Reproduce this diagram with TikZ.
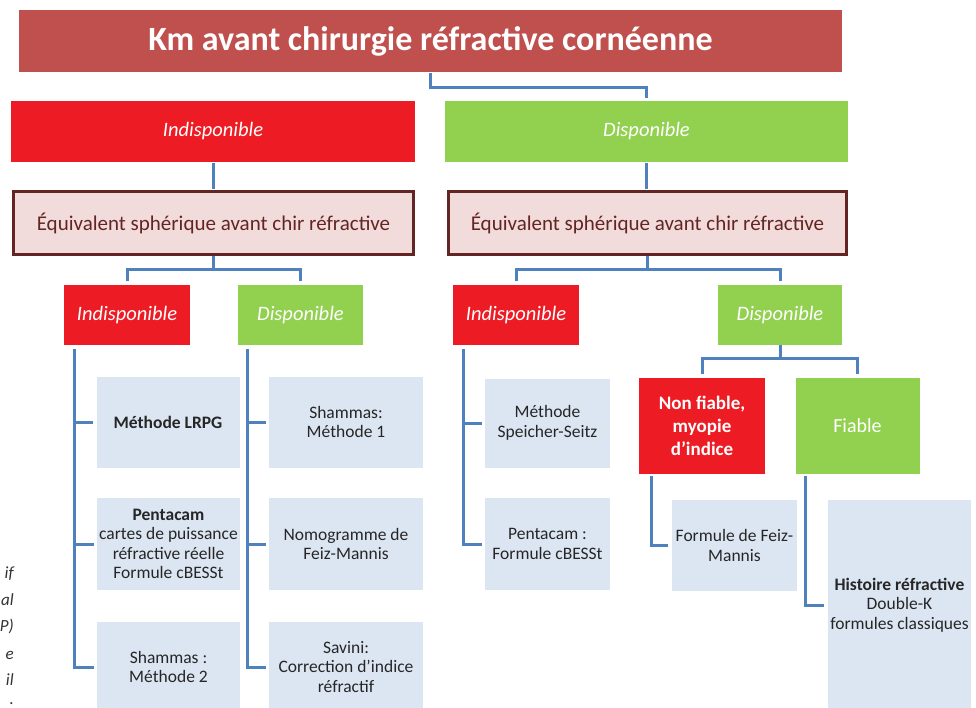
\documentclass[tikz,border=0pt]{standalone}
\usepackage{fontspec}
\setmainfont{Carlito}
\definecolor{bordeaux}{HTML}{C0504D}
\definecolor{rouge}{HTML}{ED1C24}
\definecolor{vert}{HTML}{92D050}
\definecolor{rose}{HTML}{F2DCDB}
\definecolor{brun}{HTML}{632523}
\definecolor{gris}{HTML}{DCE6F2}
\definecolor{lien}{HTML}{4F81BD}

\begin{document}
\begin{tikzpicture}[x=1pt,y=-1pt,
	wh/.style 2 args={minimum width=#1pt,minimum height=#2pt,inner sep=0pt},
	titre/.style={fill=bordeaux,text=white,font=\fontsize{34}{40}\selectfont\bfseries},
	nondispo/.style={fill=rouge,text=white,font=\fontsize{20.5}{24}\selectfont\itshape},
	dispo/.style={fill=vert,text=white,font=\fontsize{20.5}{24}\selectfont\itshape},
	equiv/.style={fill=rose,draw=brun,line width=3pt,text=brun,font=\fontsize{21}{24}\selectfont},
	feuille/.style={fill=gris,text=black!85,align=center,font=\fontsize{17.5}{19.5}\selectfont},
	fiab/.style={text=white,align=center,font=\fontsize{20}{23}\selectfont},
	lien/.style={draw=lien,line width=3pt},
	frag/.style={anchor=base east,inner sep=0pt,text=black!80,font=\fontsize{17}{18}\selectfont\itshape}]
\useasboundingbox (0,0) rectangle (976,707);
\clip (0,0) rectangle (976,707);

\node[titre,wh={823}{62}] (km) at (430.5,41) {Km avant chirurgie réfractive cornéenne};

\node[nondispo,wh={404}{61}] (indA) at (213,131.5) {Indisponible};
\node[dispo,wh={403}{61}] (disA) at (646.5,131.5) {Disponible};

\node[equiv,wh={400}{63}] (eqL) at (213.5,223) {Équivalent sphérique avant chir réfractive};
\node[equiv,wh={398}{63}] (eqR) at (647.5,223) {Équivalent sphérique avant chir réfractive};

\node[nondispo,wh={126}{60}] (indB) at (127,315) {Indisponible};
\node[dispo,wh={125}{60}] (disB) at (300.5,315) {Disponible};
\node[nondispo,wh={126}{60}] (indC) at (516,315) {Indisponible};
\node[dispo,wh={124}{60}] (disC) at (780,315) {Disponible};

\node[fiab,fill=rouge,wh={126}{96},font=\fontsize{19}{23}\selectfont\bfseries] (nonfiable) at (702,426) {Non fiable,\\myopie\\d’indice};
\node[fiab,fill=vert,wh={124}{96}] (fiable) at (857.5,426) {Fiable};

\node[feuille,wh={143}{91}] (lrpg) at (168,422) {\textbf{Méthode LRPG}};
\node[feuille,wh={143}{92}] (pentaA) at (168.5,544) {\textbf{Pentacam}\\cartes de puissance\\réfractive réelle\\Formule cBESSt};
\node[feuille,wh={143}{90}] (shamB) at (168.5,667) {Shammas :\\Méthode 2};
\node[feuille,wh={154}{91}] (sham1) at (346,422) {Shammas:\\Méthode 1};
\node[feuille,wh={154}{92}] (nomo) at (346,544) {Nomogramme de\\Feiz-Mannis};
\node[feuille,wh={154}{90}] (savini) at (346,667) {Savini:\\Correction d’indice\\réfractif};
\node[feuille,wh={125}{89}] (speicher) at (547.5,423) {Méthode\\Speicher-Seitz};
\node[feuille,wh={125}{92}] (pentaC) at (547.5,544) {Pentacam :\\Formule cBESSt};
\node[feuille,wh={125}{91}] (feiz) at (734.5,545.5) {Formule de Feiz-\\Mannis};
\node[feuille,wh={143}{210}] (histoire) at (899.5,605) {\textbf{Histoire réfractive}\\Double-K\\formules classiques};

\foreach \t/\y in {if/578,al/605,P)/631,e/659,il/685,./704}
	\node[frag] (frag\y) at (14,\y) {\t};

\draw[lien,shorten <=1pt,shorten >=3pt] (km.south) -- ++(0,15) -| (disA.north);
\draw[lien,shorten <=1pt,shorten >=1pt] (indA.south) -- (indA.south |- eqL.north);
\draw[lien,shorten <=1pt,shorten >=1pt] (disA.south) -- (disA.south |- eqR.north);
\foreach \p/\a/\b in {eqL/indB/disB,eqR/indC/disC,disC/nonfiable/fiable}{
	\draw[lien,shorten >=4pt] (\p.south) -- ++(0,13) -| (\a.north);
	\draw[lien,shorten >=4pt] (\p.south) ++(0,13) -| (\b.north);
}
\draw[lien] ([xshift=11pt,yshift=-4pt]indB.south west) coordinate (barB) |- ([xshift=-3pt]shamB.west);
\draw[lien] (barB |- lrpg.west) -- ([xshift=-3pt]lrpg.west);
\draw[lien] (barB |- pentaA.west) -- ([xshift=-3pt]pentaA.west);
\draw[lien] ([xshift=10pt,yshift=-4pt]disB.south west) coordinate (barD) |- ([xshift=-3pt]savini.west);
\draw[lien] (barD |- sham1.west) -- ([xshift=-3pt]sham1.west);
\draw[lien] (barD |- nomo.west) -- ([xshift=-3pt]nomo.west);
\draw[lien] ([xshift=11pt,yshift=-4pt]indC.south west) coordinate (barC) |- ([xshift=-3pt]pentaC.west);
\draw[lien] (barC |- speicher.west) -- ([xshift=-3pt]speicher.west);
\draw[lien] ([xshift=13pt,yshift=-2pt]nonfiable.south west) |- ([xshift=-4pt]feiz.west);
\draw[lien] ([xshift=10.5pt,yshift=-2pt]fiable.south west) |- ([xshift=-4pt]histoire.west);
\end{tikzpicture}
\end{document}
